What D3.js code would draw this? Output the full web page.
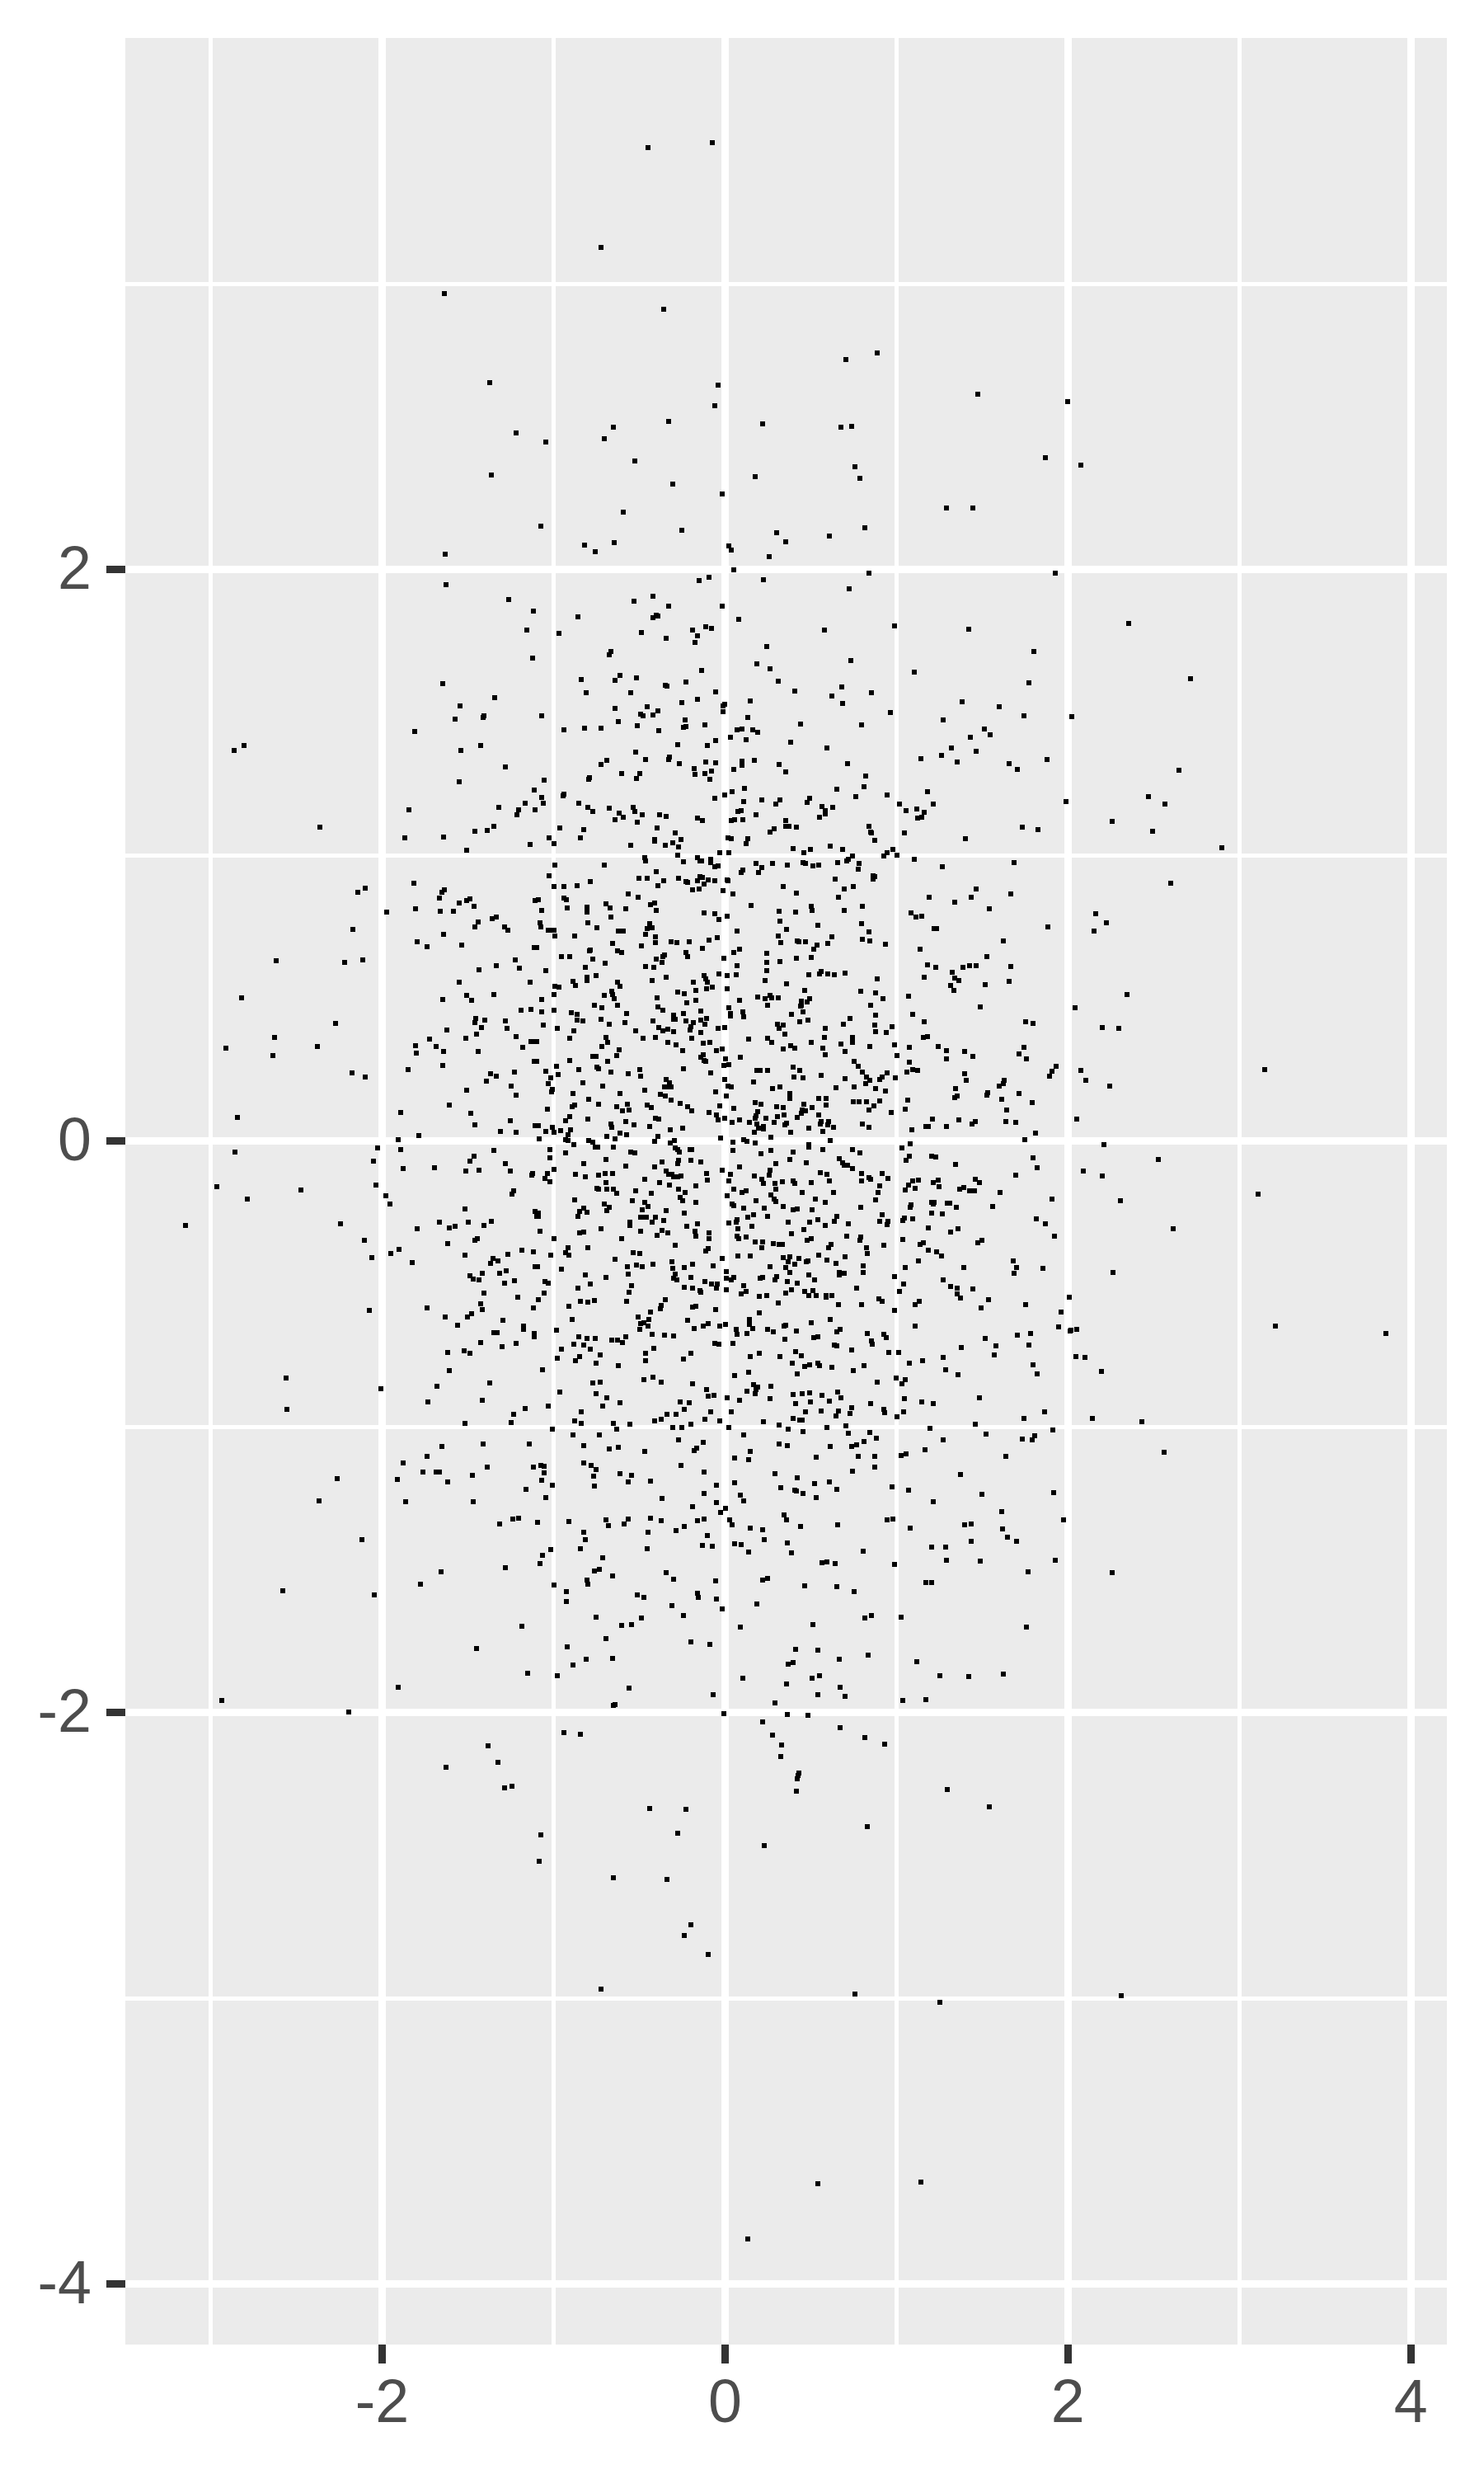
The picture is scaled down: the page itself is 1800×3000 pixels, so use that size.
<!DOCTYPE html>
<html><head><meta charset="utf-8">
<script src="https://cdn.jsdelivr.net/npm/d3@7"></script>
<style>html,body{margin:0;padding:0;background:#fff}svg{display:block}</style>
</head><body>
<div id="chart"></div>
<script>
const xMajorTicks=[-2,0,2,4];
const yMajorTicks=[-4,-2,0,2];
const xMinorTicks=[-3,-1,1,3];
const yMinorTicks=[-3,-1,1,3];
const xDomain=[-3.497,4.21];
const yDomain=[-4.211,3.861];

const pointsTop=[[-.45,3.478],[-.076,3.495],[-.723,3.128],[-1.637,2.967],[-.358,2.912],[.887,2.759],[.703,2.736],[-1.37,2.655],[-.042,2.646],[-.058,2.574],[-.331,2.519],[.221,2.511],[.675,2.499],[.737,2.502],[-.653,2.499],[-1.22,2.479],[-1.045,2.447],[-.705,2.459],[-.527,2.381],[.758,2.361],[-1.364,2.332],[.178,2.326],[.785,2.32],[-.306,2.3],[-.018,2.266],[1.474,2.615],[2,2.587],[1.87,2.392],[2.073,2.365]];

const pointsBottomFar=[[-.274,-2.423],[.228,-2.466],[.83,-2.4],[-1.073,-2.427],[-1.082,-2.521],[-.651,-2.577],[-.338,-2.583],[-.2,-2.742],[-.237,-2.781],[-.1,-2.847],[-.724,-2.968],[.756,-2.985],[1.252,-3.013],[2.31,-2.99],[.544,-3.648],[1.142,-3.643],[.131,-3.841]];

const pointsLowerLeft=[[-1.159,-1.218],[-2.365,-1.258],[-1.861,-1.261],[-1.466,-1.261],[-1.312,-1.339],[-1.236,-1.322],[-1.202,-1.319],[-2.115,-1.394],[-1.279,-1.492],[-1.654,-1.507],[-1.774,-1.549],[-2.577,-1.573],[-2.043,-1.587],[-1.183,-1.697],[-1.447,-1.775],[-1.149,-1.862],[-1.904,-1.91],[-2.933,-1.957],[-2.192,-1.997],[-1.38,-2.115],[-1.322,-2.173],[-1.625,-2.19],[-1.284,-2.263],[-1.24,-2.257]];

const pointsLowerCentre=[[-1.005,-1.205],[-.76,-1.207],[-.048,-1.205],[.327,-1.212],[.407,-1.22],[.418,-1.224],[.457,-1.232],[.524,-1.198],[.534,-1.247],[.654,-1.218],[.976,-1.209],[1.072,-1.221],[1.216,-1.261],[-1.043,-1.247],[-.365,-1.25],[-.12,-1.232],[.091,-1.238],[.111,-1.258],[-.188,-1.279],[-.048,-1.264],[.005,-1.284],[-.024,-1.299],[-1.093,-1.333],[-.909,-1.33],[-.692,-1.325],[-.678,-1.345],[-.563,-1.322],[-.587,-1.339],[-.433,-1.319],[-.37,-1.328],[-.159,-1.328],[-.12,-1.322],[.029,-1.325],[.043,-1.342],[.346,-1.307],[.361,-1.325],[.149,-1.354],[.221,-1.359],[.442,-1.348],[.659,-1.342],[.947,-1.325],[.981,-1.322],[1.082,-1.354],[-.822,-1.368],[-.447,-1.368],[-.284,-1.362],[-.236,-1.348],[-.813,-1.394],[-.101,-1.38],[.231,-1.394],[-.13,-1.414],[-.072,-1.417],[.058,-1.408],[.096,-1.411],[.365,-1.405],[-.841,-1.426],[-.452,-1.426],[-1.014,-1.429],[-1.063,-1.449],[-.712,-1.458],[.139,-1.437],[.389,-1.44],[.808,-1.434],[1.207,-1.42],[1.288,-1.42],[-1.077,-1.478],[.567,-1.475],[.596,-1.472],[.644,-1.478],[.99,-1.481],[1.292,-1.466],[-.76,-1.504],[-.731,-1.498],[-.654,-1.521],[-.341,-1.509],[-.298,-1.533],[-.803,-1.535],[-.798,-1.55],[-.995,-1.553],[-.053,-1.538],[.221,-1.535],[.25,-1.53],[.466,-1.556],[.654,-1.558],[.755,-1.576],[1.173,-1.544],[1.207,-1.544],[-.923,-1.576],[-.923,-1.611],[-.51,-1.587],[-.471,-1.596],[-.159,-1.582],[-.154,-1.596],[-.048,-1.602],[-.308,-1.625],[.188,-1.619],[-.014,-1.636],[-.75,-1.665],[-.486,-1.668],[-.24,-1.66],[.817,-1.668],[.856,-1.66],[1.029,-1.665],[-.601,-1.694],[-.543,-1.691],[.091,-1.7],[.514,-1.691],[-.692,-1.74],[-.197,-1.752],[-.087,-1.76],[-.918,-1.769],[.413,-1.778],[.543,-1.781],[-.808,-1.812],[-.654,-1.809],[.668,-1.812],[.837,-1.798],[1.12,-1.821],[-.885,-1.833],[.37,-1.83],[.399,-1.824],[-.976,-1.87],[.106,-1.879],[.51,-1.879],[.553,-1.87],[1.255,-1.87],[.361,-1.899],[-.558,-1.913],[.673,-1.911],[-.067,-1.937],[.543,-1.937],[.702,-1.942],[1.038,-1.957],[1.173,-1.954],[.293,-1.965],[-.639,-1.971],[-.649,-1.974],[-.005,-2.003],[.365,-2.006],[.486,-2.009],[.221,-2.032],[.673,-2.052],[-.938,-2.069],[-.841,-2.075],[.279,-2.078],[.817,-2.087],[.332,-2.113],[.933,-2.11],[.327,-2.153],[.433,-2.211],[.428,-2.219],[.423,-2.231],[.418,-2.274],[1.298,-2.268],[-.438,-2.335],[-.226,-2.338]];

const pointsLeftUpper=[[-2.361,1.1],[-1.865,1.062],[-1.639,1.065],[-1.457,1.085],[-1.385,1.088],[-1.346,1.103],[-1.135,1.039],[-1.505,1.019],[-1.813,.903],[-2.139,.872],[-2.096,.886],[-1.635,.88],[-1.649,.872],[-1.663,.851],[-1.548,.834],[-1.505,.843],[-1.486,.848],[-1.462,.823],[-1.106,.843],[-1.971,.802],[-1.803,.814],[-1.659,.805],[-1.582,.805],[-1.437,.768],[-1.457,.75],[-1.356,.779],[-1.332,.785],[-1.284,.75],[-1.264,.739],[-2.168,.742],[-1.639,.724],[-1.793,.698],[-1.736,.681],[-1.534,.687],[-1.111,.678],[-2.615,.632],[-2.216,.626],[-2.111,.635],[-1.221,.635],[-1.433,.6],[-1.332,.615],[-1.197,.606],[-1.548,.557],[-1.135,.557],[-2.817,.502],[-1.644,.496],[-1.505,.511],[-1.476,.494],[-1.346,.514],[-1.188,.459],[-1.13,.462],[-2.269,.413],[-1.452,.43],[-1.457,.416],[-1.399,.424],[-1.279,.421],[-1.418,.398],[-1.269,.395],[-1.62,.39],[-1.447,.375],[-1.216,.367],[-2.625,.364],[-1.721,.358],[-1.51,.361],[-1.13,.349],[-1.112,.349],[-2.909,.326],[-2.375,.332],[-1.803,.335],[-1.683,.332],[-1.639,.315],[-1.798,.309],[-1.437,.315],[-1.178,.329],[-2.635,.3],[-1.644,.266],[-1.846,.251],[-1.111,.28],[-2.173,.24],[-2.096,.225],[-1.365,.237],[-1.332,.228],[-1.226,.242],[-1.389,.211],[-1.245,.193],[-1.505,.179],[-1.216,.162],[-1.606,.127],[-2.841,.084],[-1.889,.101],[-1.481,.098],[-1.25,.072],[-1.457,.058],[-1.106,.055],[-1.308,.035],[-1.216,.032],[-1.784,.02],[-1.904,.006],[-2.024,-.023],[-2.856,-.038],[-1.889,-.029],[-1.346,-.032],[-1.462,-.051]];

const pointsLeftLower=[[-2.048,-.069],[-1.875,-.095],[-1.692,-.092],[-1.486,-.069],[-1.51,-.104],[-1.433,-.101],[-1.279,-.078],[-1.25,-.104],[-1.125,-.118],[-1.12,-.112],[-2.962,-.159],[-2.471,-.17],[-2.784,-.202],[-2.034,-.153],[-1.976,-.19],[-1.952,-.219],[-1.231,-.173],[-1.24,-.185],[-1.514,-.237],[-1.106,-.245],[-1.1,-.263],[-3.144,-.294],[-2.24,-.289],[-1.663,-.283],[-1.606,-.303],[-1.572,-.297],[-1.793,-.306],[-1.495,-.283],[-1.404,-.294],[-1.361,-.28],[-2.101,-.346],[-1.615,-.358],[-1.457,-.346],[-1.442,-.341],[-2.058,-.407],[-1.947,-.393],[-1.899,-.378],[-1.822,-.424],[-1.514,-.398],[-1.351,-.41],[-1.322,-.418],[-1.365,-.427],[-1.264,-.395],[-1.183,-.381],[-1.115,-.387],[-1.106,-.439],[-1.413,-.462],[-1.312,-.462],[-1.274,-.453],[-1.486,-.47],[-1.466,-.482],[-1.433,-.485],[-1.284,-.496],[-1.226,-.488],[-1.404,-.531],[-1.207,-.545],[-1.423,-.568],[-1.736,-.583],[-1.413,-.589],[-1.115,-.583],[-2.072,-.592],[-1.476,-.603],[-1.63,-.615],[-1.5,-.615],[-1.293,-.626],[-1.558,-.644],[-1.173,-.646],[-1.173,-.658],[-1.346,-.67],[-1.327,-.67],[-1.111,-.672],[-1.111,-.684],[-1.423,-.704],[-1.216,-.707],[-1.298,-.719],[-1.615,-.739],[-1.519,-.733],[-1.486,-.742],[-1.606,-.802],[-2.558,-.828],[-1.37,-.846],[-2.005,-.866],[-1.678,-.857],[-1.731,-.912],[-1.413,-.906],[-2.553,-.938],[-1.163,-.935],[-1.231,-.955],[-1.514,-.987],[-1.245,-.984],[-1.649,-1.068],[-1.409,-1.059],[-1.139,-1.059],[-1.736,-1.102],[-1.875,-1.125],[-1.385,-1.14],[-1.115,-1.14],[-1.76,-1.157],[-1.683,-1.157],[-1.663,-1.157],[-1.471,-1.169],[-2.26,-1.18],[-1.909,-1.183],[-1.615,-1.193]];

const pointsUpperLeft=[[-1.63,2.055],[-1.625,1.948],[-1.26,1.896],[-1.115,1.856],[-1.154,1.789],[-1.12,1.691],[-1.644,1.602],[-1.341,1.553],[-1.543,1.524],[-1.572,1.478],[-1.404,1.489],[-1.409,1.483],[-1.808,1.434],[-2.803,1.385],[-2.861,1.368],[-1.423,1.385],[-1.538,1.368],[-1.279,1.31],[-1.548,1.258],[-1.111,1.229],[-1.163,1.183],[-1.841,1.16],[-1.317,1.169],[-1.202,1.16],[-1.106,1.16],[-1.212,1.143]];

const pointsUpperCentre=[[-.591,2.202],[-1.072,2.153],[-.25,2.139],[-.817,2.087],[-.755,2.064],[-.644,2.095],[.024,2.084],[.038,2.069],[.303,2.13],[.356,2.098],[.611,2.118],[.817,2.147],[1.292,2.216],[.26,2.046],[.053,2],[.841,1.988],[-.149,1.962],[-.091,1.974],[.226,1.965],[.726,1.934],[-.418,1.908],[-.529,1.89],[-.327,1.873],[-.014,1.873],[-.856,1.835],[-.418,1.833],[-.399,1.841],[-.389,1.838],[.082,1.827],[-.966,1.778],[-.486,1.781],[-.341,1.76],[-.188,1.789],[-.111,1.801],[-.077,1.795],[-.159,1.769],[-.173,1.746],[.582,1.789],[.99,1.804],[.245,1.732],[-.663,1.714],[-.673,1.703],[.736,1.683],[.188,1.671],[.264,1.654],[-.135,1.648],[1.106,1.642],[-.837,1.616],[-.639,1.613],[-.611,1.631],[-.514,1.622],[-.346,1.596],[-.337,1.593],[-.226,1.607],[.313,1.61],[-.808,1.57],[-.548,1.57],[-.053,1.573],[.409,1.576],[.683,1.59],[.856,1.57],[.625,1.558],[-.25,1.535],[-.159,1.547],[.149,1.541],[.688,1.532],[-.639,1.515],[-.452,1.521],[-.01,1.524],[0,1.53],[-.389,1.506],[-.01,1.504],[-.49,1.495],[-.476,1.489],[-.418,1.492],[.966,1.501],[-1.067,1.489],[.135,1.483],[-.231,1.475],[1.274,1.475],[-.62,1.469],[-.51,1.455],[-.24,1.449],[-.226,1.452],[-.115,1.457],[.442,1.46],[.798,1.457],[-.938,1.44],[-.817,1.446],[-.721,1.446],[-.385,1.437],[.072,1.44],[.101,1.443],[.163,1.44],[.192,1.431],[.034,1.414],[.125,1.406],[-.053,1.403],[-.274,1.388],[-.101,1.385],[.385,1.397],[.596,1.377],[-.519,1.362],[-.688,1.333],[-.462,1.336],[-.322,1.345],[-.327,1.336],[1.264,1.351],[1.144,1.339],[-.721,1.319],[-.264,1.322],[-.111,1.328],[-.053,1.325],[.101,1.329],[.101,1.316],[.173,1.333],[.317,1.319],[.716,1.322],[-.178,1.304],[-.077,1.296],[.053,1.302],[.356,1.293],[-.601,1.287],[-.495,1.287],[-.173,1.284],[-.115,1.287],[.822,1.278],[-1.053,1.264],[-.788,1.273],[-.793,1.267],[-.514,1.27],[-.087,1.267],[.115,1.235],[.654,1.232],[.813,1.241],[1.183,1.224],[-.938,1.215],[-.942,1.209],[.043,1.224],[0,1.212],[-1.067,1.203],[-.058,1.201],[.764,1.206],[.947,1.212],[.216,1.195],[.322,1.195],[.495,1.201],[.111,1.189],[-1.058,1.183],[-.851,1.183],[.481,1.186],[.298,1.18],[1.019,1.18],[1.216,1.18],[-.798,1.169],[-.673,1.166],[-.534,1.169],[.567,1.172],[.63,1.169],[-.769,1.154],[-.524,1.154],[.096,1.157],[.077,1.154],[.587,1.157],[1.058,1.157],[1.12,1.163],[-.615,1.149],[-.481,1.143],[-.38,1.143],[-.341,1.137],[.183,1.143],[.587,1.146],[1.163,1.152],[-.591,1.134],[-.639,1.126],[-.159,1.131],[-.13,1.123],[.038,1.123],[.058,1.126],[.106,1.126],[.356,1.123],[.553,1.134],[1.125,1.131],[1.149,1.134],[-.51,1.116]];

const pointsCentreUpper=[[-.962,1.097],[-.822,1.091],[-.394,1.097],[-.288,1.079],[-1.024,1.062],[-.841,1.062],[-.409,1.056],[-.409,1.051],[-.255,1.056],[-.995,1.042],[-.548,1.036],[-.346,1.036],[-.303,1.045],[-.269,1.03],[.019,1.062],[.038,1.059],[.135,1.059],[.125,1.042],[.288,1.094],[.264,1.082],[.356,1.101],[.375,1.101],[.418,1.1],[.841,1.103],[.851,1.082],[.856,1.079],[.875,1.053],[1.048,1.079],[.397,1.025],[.462,1.01],[.5,1.022],[.615,1.033],[.688,1.022],[-.029,1.01],[.024,1.01],[-.274,1.001],[-.466,.993],[-.462,.981],[-.24,.978],[-.159,.993],[-.144,.981],[-.135,.981],[-.082,.987],[-.082,.975],[.745,.999],[.721,.987],[.712,.981],[.659,.975],[.928,.999],[.947,1.01],[.981,1.022],[1.005,1.001],[1.106,.987],[.784,.973],[.779,.952],[1.269,.961],[-.99,.967],[-.706,.967],[-.058,.961],[-.038,.964],[.183,.973],[.279,.973],[.365,.967],[.457,.975],[.471,.973],[.514,.964],[.548,.967],[.216,.958],[.106,.95],[.096,.941],[.197,.941],[-.399,.944],[-1.024,.929],[-.5,.921],[-.452,.921],[-.269,.921],[-.144,.927],[-.13,.924],[-.096,.915],[.644,.918],[.865,.929],[.875,.926],[.865,.918],[-.784,.909],[-.356,.912],[-.226,.909],[-.216,.906],[-.159,.912],[-.058,.912],[.014,.915],[.019,.912],[-.995,.892],[-.938,.892],[-.861,.895],[-.389,.895],[-.12,.9],[.341,.892],[.75,.892],[.697,.883],[-.188,.88],[-.149,.883],[-.01,.877],[.048,.866],[.418,.869],[-.563,.866],[-.505,.854],[.663,.854],[1.192,.854],[-1.088,.844],[-.938,.851],[-.923,.846],[-.692,.831],[-.409,.834],[-.433,.828],[.154,.825],[.505,.823],[.803,.823],[-.918,.817],[-.803,.82],[-.668,.817],[-.577,.814],[-1.069,.808],[-.803,.808],[-.803,.802],[-.399,.808],[.317,.805],[.413,.802],[.51,.808],[.697,.808],[-.12,.799],[-.058,.797],[-.663,.785],[.014,.788],[-.034,.776],[.322,.771],[1.087,.799],[1.115,.785],[1.149,.788],[-1.077,.765],[-1.072,.75],[-.798,.765],[-.438,.762],[-.745,.746],[-.452,.745],[-.423,.747],[.543,.756],[.798,.762],[.361,.742],[-1.029,.739],[-1.01,.739],[-.995,.739],[-.62,.736],[-.606,.736],[-.591,.736],[.072,.736],[.841,.733],[1.221,.745],[1.236,.745],[-.99,.719],[-.875,.719],[-.462,.724],[-.404,.716],[-.043,.713],[-.091,.704],[.313,.719],[.625,.716],[.803,.707],[.846,.701],[-.654,.693],[-.404,.696],[-.313,.698],[-.279,.696],[-.207,.698],[.327,.696],[.423,.701],[.433,.698],[.471,.698],[.601,.693],[.538,.687],[.938,.69],[-1.098,.678],[-.486,.684],[-.13,.675],[.087,.672],[.519,.672],[1.139,.672],[-.788,.667],[-.784,.67],[-.625,.667],[-.601,.661],[-.226,.661],[.053,.661],[.245,.658],[-.952,.646],[-.904,.646],[-.351,.652],[-.361,.646],[-.216,.646],[-.769,.638],[-.399,.638],[-.005,.641],[.418,.641],[.505,.644],[-.697,.623],[-.365,.626],[.245,.627],[.322,.629],[1.183,.618],[.072,.615],[1.231,.609],[-.813,.609],[-.462,.612],[-.413,.609],[-1.043,.598],[.245,.597],[-.75,.58],[-.341,.574],[-.12,.58],[-.034,.586],[.014,.58],[.067,.583],[.49,.583],[.553,.586],[.563,.595],[.601,.586],[.639,.583],[.702,.589],[1.163,.574]];

const pointsCentreMiddle=[[-.803,.573],[-.803,.563],[-.885,.56],[-.423,.563],[-.111,.569],[.889,.569],[.236,.563],[-.625,.557],[-.183,.557],[-.101,.557],[.361,.551],[-.87,.545],[-.99,.543],[-.966,.54],[-.611,.543],[-.106,.534],[-.072,.54],[.014,.534],[-.168,.528],[.466,.528],[.793,.525],[.88,.519],[-.995,.514],[-.702,.511],[-.659,.525],[-.654,.514],[-.274,.522],[-.236,.517],[1.072,.508],[-1.067,.496],[-.644,.499],[-.394,.502],[.192,.505],[.236,.499],[.264,.511],[.274,.502],[.313,.501],[.495,.499],[.447,.491],[.481,.488],[.923,.499],[-.168,.494],[.087,.494],[-.221,.485],[-.76,.476],[-.625,.476],[.25,.476],[.447,.476],[.442,.473],[.851,.476],[-.716,.468],[-.389,.47],[.024,.468],[-.361,.459],[-1.067,.453],[-.995,.459],[-.139,.456],[.106,.453],[.457,.453],[-.894,.45],[-.572,.447],[-.24,.447],[-.861,.444],[-.298,.442],[.034,.447],[.034,.439],[.111,.436],[.389,.444],[.88,.442],[1.096,.444],[-.298,.427],[-.288,.427],[-.106,.43],[.731,.43],[-.861,.424],[-.827,.421],[-.721,.427],[-.418,.421],[-.226,.421],[-.139,.424],[.437,.418],[.486,.424],[1.163,.418],[-1.058,.407],[-.673,.41],[-.582,.416],[-.183,.416],[-.115,.41],[.308,.41],[.341,.407],[.692,.41],[.875,.407],[-.976,.395],[-.385,.398],[-.197,.401],[-.038,.395],[0,.398],[.317,.395],[.587,.395],[.976,.401],[-.88,.387],[-.519,.387],[-.361,.387],[-.332,.392],[-.298,.384],[-.202,.39],[-.139,.381],[.88,.384],[.942,.381],[.351,.375],[-.904,.361],[-.692,.364],[-.476,.361],[-.404,.364],[-.192,.361],[.139,.358],[.25,.361],[.582,.364],[.745,.364],[.745,.346],[1.159,.364],[1.183,.367],[-1.098,.349],[-.683,.346],[-.332,.346],[-.125,.343],[-.087,.346],[.274,.346],[.505,.346],[.678,.341],[-.716,.332],[-.284,.338],[.385,.335],[.409,.326],[.846,.332],[.99,.338],[1.077,.329],[.572,.326],[1.245,.332],[-.615,.32],[-.245,.317],[-.048,.317],[-.014,.323],[.341,.323],[.702,.315],[1.292,.317],[-.63,.3],[-.769,.297],[-.75,.297],[-.125,.303],[-.139,.294],[.091,.294],[.587,.303],[1.005,.3],[.005,.289],[-.12,.283],[-.111,.28],[-1.098,.28],[-.904,.283],[-.683,.28],[.755,.28],[1.077,.277],[1.292,.289],[-.981,.263],[-.745,.26],[-.005,.266],[.024,.268],[.399,.26],[.779,.263],[-.851,.251],[-.736,.254],[-.495,.251],[-.24,.254],[.188,.248],[.207,.248],[.25,.248],[.437,.248],[1.096,.251],[1.125,.248],[-1.043,.245],[-.663,.242],[1.062,.242],[.803,.242],[-.971,.234],[-.562,.237],[-.082,.24],[.946,.24],[-.49,.228],[.404,.225],[.457,.222],[.563,.231],[.827,.225],[.918,.225],[-1.014,.222],[-.341,.216],[0,.216],[.702,.219],[.843,.214],[.904,.216],[.995,.222],[.168,.208],[.822,.202],[-.827,.205],[-1.029,.202],[-.322,.205],[-.712,.193],[-.351,.19],[-.332,.19],[-.313,.19],[.019,.193],[.038,.19],[.322,.19],[.755,.19],[.279,.185],[.649,.186],[.88,.185],[-1.005,.182],[-.466,.179],[-1.01,.173],[-.053,.173],[.938,.176],[-.885,.167],[-.611,.167],[.38,.167],[-.375,.165],[-.346,.159],[.01,.159],[.38,.15],[-.793,.147],[-.313,.144],[.548,.15],[.591,.15],[1.067,.144],[.75,.139],[.784,.139],[.827,.139],[.904,.141],[.178,.136],[-.26,.133],[-.736,.13],[-.567,.13],[.212,.13],[.462,.13],[.591,.127],[-.875,.127],[-.452,.127],[-.889,.121],[-.63,.121],[-.428,.118],[-.216,.121],[-.029,.124],[.303,.121],[.341,.118],[.51,.118],[.87,.124],[.053,.115],[-1.034,.111],[-.596,.107],[-.558,.11],[-.192,.107],[.452,.11],[.471,.106],[.841,.11],[1.053,.113],[.191,.104],[-.091,.101],[.444,.098],[.971,.101],[-.904,.087],[-.048,.092],[.346,.092],[.548,.092],[.181,.09],[-.404,.081],[-.385,.078],[-.798,.078],[-.038,.075],[0,.081],[.178,.081],[.24,.081],[.308,.087],[.423,.084],[-.928,.072],[-.577,.069],[.087,.075],[.144,.066],[.288,.066],[.563,.069],[.606,.069],[1.212,.078],[.043,.066],[.188,.061],[.361,.064],[.558,.061],[.601,.058],[.803,.061],[.351,.058],[-.663,.061],[-.529,.058],[-1.09,.055],[-1.005,.049],[-.659,.049],[-.438,.052],[.226,.052],[.841,.049],[.635,.049],[-.245,.046],[.197,.046],[.49,.046],[.226,.043],[1.173,.052],[1.188,.052],[1.292,.052],[1.088,.04],[-1.043,.035],[-.995,.032],[-.957,.037],[-.899,.04],[-.317,.04],[.173,.032],[.385,.032],[.572,.035],[-.611,.029],[-.913,.023],[-.572,.023],[-.688,.017],[-.389,.017],[.269,.014],[-1.082,.009],[-.928,.006],[-.639,.009],[-.024,.012],[.111,.006],[.615,.003],[-.913,.003],[-.793,.003],[-.293,.003],[.13,0],[-.769,-.003],[-.409,0],[-.317,-.006],[.048,-.003],[.178,-.006],[1.082,-.009],[-.88,-.012],[.49,-.012],[-.755,-.02],[-.74,-.02],[-.649,-.02],[-.288,-.023],[.49,-.02],[1.034,-.023],[-1.019,-.029],[-.274,-.029],[-.202,-.029],[-.192,-.029],[.048,-.032],[.269,-.032],[.572,-.029],[.745,-.029],[-.266,-.038],[-.928,-.04],[-.548,-.038],[-.524,-.041],[.399,-.038],[.788,-.04],[.212,-.043]];

const pointsCentreLower=[[-1.019,-.058],[-.822,-.078],[-.692,-.063],[-.577,-.087],[-.409,-.089],[-.365,-.072],[-.269,-.066],[-.274,-.078],[-.197,-.066],[-.139,-.072],[.087,-.089],[.298,-.078],[.38,-.063],[.476,-.075],[.668,-.061],[.688,-.075],[.697,-.083],[.713,-.083],[.745,-.095],[1.058,-.066],[1.077,-.052],[1.207,-.052],[1.231,-.055],[-.995,-.098],[-1.037,-.113],[-1.048,-.13],[-1.019,-.141],[-.87,-.115],[-.813,-.124],[-.736,-.118],[-.697,-.113],[-.654,-.113],[-.466,-.133],[-.341,-.104],[-.327,-.115],[-.308,-.115],[-.298,-.124],[-.274,-.124],[-.258,-.121],[-.106,-.113],[-.101,-.136],[-.014,-.101],[.034,-.115],[.024,-.139],[.173,-.121],[.216,-.133],[.264,-.101],[.26,-.118],[.226,-.147],[.293,-.147],[.337,-.141],[.399,-.139],[.409,-.147],[.505,-.144],[.558,-.11],[.596,-.115],[.611,-.139],[.795,-.113],[.798,-.139],[.841,-.127],[.851,-.133],[.918,-.113],[.952,-.13],[.904,-.156],[1.096,-.139],[1.13,-.136],[1.072,-.153],[1.111,-.164],[1.053,-.17],[1.216,-.144],[1.245,-.136],[1.25,-.159],[-.692,-.144],[-.38,-.144],[-.322,-.153],[-.168,-.156],[-.745,-.164],[-.736,-.167],[-.688,-.167],[-.649,-.167],[-.63,-.182],[-.519,-.173],[-.428,-.182],[-.269,-.167],[-.231,-.179],[.053,-.167],[.101,-.179],[.125,-.173],[.298,-.167],[.452,-.179],[.635,-.179],[.894,-.179],[.014,-.19],[.269,-.187],[-.875,-.205],[-.538,-.208],[-.26,-.196],[-.245,-.208],[-.168,-.213],[-.706,-.219],[-.466,-.213],[.183,-.208],[.288,-.202],[.298,-.21],[.529,-.202],[.587,-.213],[.88,-.205],[1.207,-.214],[1.221,-.214],[1.213,-.22],[.043,-.219],[.053,-.225],[-.673,-.231],[-.447,-.229],[-.822,-.234],[.341,-.228],[.793,-.231],[1.087,-.222],[1.082,-.231],[1.298,-.216],[.111,-.234],[.231,-.234],[-.688,-.242],[-.481,-.239],[-.341,-.242],[.399,-.239],[.423,-.237],[.508,-.239],[-.846,-.245],[-.803,-.248],[-.236,-.251],[1.207,-.251],[1.269,-.254],[-1.09,-.251],[-1.09,-.263],[.918,-.257],[-.856,-.263],[.168,-.257],[.25,-.263],[.135,-.265],[.654,-.263],[-.49,-.265],[-.476,-.265],[-.46,-.265],[-.404,-.265],[.072,-.274],[1.046,-.268],[1.096,-.271],[1.038,-.277],[-.356,-.277],[-.423,-.283],[-.553,-.283],[.067,-.283],[.024,-.286],[.37,-.283],[.494,-.283],[.543,-.274],[.639,-.28],[.721,-.288],[.904,-.28],[.952,-.279],[.947,-.291],[-.553,-.294],[-.159,-.289],[-.221,-.297],[.159,-.297],[.587,-.294],[-.721,-.306],[.077,-.306],[.462,-.309],[1.187,-.303],[-1.077,-.314],[-.49,-.314],[-.365,-.312],[-.173,-.314],[-.846,-.32],[-.822,-.317],[-.332,-.32],[-.091,-.32],[.389,-.323],[-.394,-.329],[-.168,-.332],[.072,-.332],[.125,-.335],[.712,-.332],[.793,-.335],[-.995,-.34],[-.601,-.34],[-.091,-.34],[.082,-.34],[.505,-.341],[.481,-.346],[.788,-.346],[1.038,-.344],[.178,-.352],[.221,-.352],[.284,-.358],[.317,-.361],[.333,-.361],[-.288,-.364],[.62,-.362],[.928,-.364],[1.139,-.361],[1.159,-.355],[-.913,-.373],[-.798,-.373],[.216,-.372],[-.096,-.375],[.606,-.372],[.827,-.372],[-.111,-.384],[-.928,-.389],[-.534,-.389],[-.495,-.392],[.832,-.392],[1.187,-.381],[1.235,-.387],[-1.014,-.398],[-.909,-.398],[.077,-.401],[.149,-.401],[.341,-.407],[.38,-.404],[.548,-.398],[.702,-.404],[1.264,-.401],[-.639,-.413],[-.014,-.41],[.433,-.41],[.37,-.421],[-.308,-.421],[.476,-.421],[.486,-.418],[.596,-.416],[1.13,-.418],[-.188,-.43],[-.418,-.43],[-.514,-.433],[.409,-.43],[.649,-.427],[-.567,-.439],[-.481,-.439],[-.067,-.436],[.264,-.439],[.356,-.442],[.808,-.436],[-1.093,-.439],[-.303,-.444],[-.236,-.442],[1.053,-.442],[-.952,-.447],[.01,-.456],[.38,-.459],[.668,-.459],[.697,-.462],[.808,-.459],[-.813,-.468],[-.562,-.465],[-.288,-.465],[.49,-.468],[.668,-.468],[-.692,-.476],[-.197,-.476],[-.298,-.479],[.01,-.479],[.053,-.476],[.221,-.476],[.303,-.473],[.99,-.473],[-.279,-.485],[.038,-.485],[.205,-.479],[.293,-.485],[.524,-.485],[1.274,-.485],[-1.048,-.491],[-1.029,-.496],[-.115,-.491],[.365,-.491],[.423,-.496],[-.784,-.499],[-.077,-.499],[-.043,-.499],[1.043,-.499],[-.543,-.505],[.111,-.505],[-.856,-.514],[-.236,-.511],[-.188,-.514],[-.048,-.514],[.769,-.514],[-.144,-.522],[.01,-.52],[.389,-.52],[.514,-.522],[.466,-.525],[1.019,-.525],[-.558,-.528],[-.139,-.528],[.125,-.525],[-1.053,-.531],[.096,-.534],[.356,-.531],[.202,-.543],[.245,-.54],[.49,-.54],[.534,-.54],[.591,-.54],[.591,-.546],[.625,-.54],[-.346,-.554],[-1.087,-.554],[-.841,-.56],[-.798,-.563],[-.76,-.557],[-.572,-.56],[.899,-.551],[.918,-.56],[1.135,-.56],[.313,-.566],[-.37,-.574],[.663,-.571],[.798,-.571],[1.111,-.571],[-.909,-.577],[-.188,-.58],[-.168,-.577],[-.375,-.586],[-.053,-.589],[.99,-.592],[-.433,-.597],[.202,-.6],[-.505,-.615],[-.889,-.624],[-.442,-.624],[-.216,-.626],[.144,-.624],[.615,-.624],[-.49,-.638],[-.471,-.635],[-.447,-.647],[-.096,-.638],[.005,-.641],[.144,-.641],[.505,-.635],[-.125,-.647],[-.029,-.647],[.356,-.645],[.346,-.648],[1.111,-.647],[-.981,-.661],[-.495,-.658],[-.178,-.655],[.067,-.658],[.163,-.655],[.25,-.658],[.673,-.658],[.284,-.667],[.418,-.664],[.654,-.667],[.072,-.675],[.13,-.672],[-.423,-.675],[-.351,-.678],[-.298,-.681],[.832,-.672],[.928,-.677],[-.851,-.684],[-.577,-.684],[.542,-.683],[.519,-.687],[-.803,-.69],[-.755,-.69],[-.659,-.695],[-.625,-.695],[.351,-.693],[.942,-.687],[.856,-.698],[-.88,-.71],[-.596,-.706],[-.822,-.713],[-.058,-.707],[-.034,-.71],[.048,-.707],[.639,-.713],[.654,-.716],[.861,-.71],[-.413,-.724],[-.952,-.727],[-.784,-.727],[.74,-.73],[-.462,-.742],[-.197,-.742],[.202,-.742],[.413,-.736],[.957,-.739],[1.014,-.739],[-.726,-.747],[-.846,-.753],[.149,-.753],[.322,-.753],[.447,-.75],[-.976,-.759],[-.24,-.762],[-.87,-.768],[-.462,-.768],[.394,-.776],[.543,-.776],[1.077,-.776],[1.154,-.768],[1.274,-.756],[-.75,-.776],[.495,-.782],[.466,-.788],[.553,-.785],[-.62,-.785],[.625,-.791],[.813,-.785],[-1.062,-.799],[.75,-.802],[1.288,-.799],[.139,-.808],[.423,-.814],[.058,-.82],[-.471,-.834],[-.418,-.825],[-.37,-.843],[1,-.828],[1.053,-.834],[-.769,-.846],[-.726,-.843],[-.188,-.848],[.889,-.843],[1.034,-.848],[.168,-.851],[.192,-.86],[.269,-.857],[-.106,-.869],[-.962,-.877],[.183,-.869],[.13,-.875],[.178,-.883],[-.75,-.883],[.452,-.883],[.495,-.88],[.659,-.877],[.399,-.886],[-.096,-.892],[-.063,-.889],[.567,-.889],[-.688,-.898],[.014,-.898],[.264,-.901],[.678,-.898],[1.048,-.901],[.087,-.906],[.611,-.909],[.5,-.912],[-.26,-.912],[-.207,-.915],[-.611,-.915],[1.149,-.912],[.413,-.918],[.851,-.918],[1.216,-.918],[-1.029,-.926],[-.712,-.926],[-.236,-.938],[.74,-.932],[.928,-.937],[-.837,-.947],[-.082,-.947],[.038,-.947],[.471,-.947],[.563,-.944],[.663,-.944],[.933,-.949],[1.043,-.947],[-.337,-.955],[-.284,-.955],[.731,-.952],[.649,-.961],[1.005,-.964],[-.37,-.972],[-.115,-.972],[.399,-.97],[.437,-.975],[.452,-.977],[-.875,-.978],[-.409,-.978],[-.029,-.978],[.226,-.981],[-.837,-.987],[-.649,-.987],[-.553,-.99],[-.197,-.99],[.317,-.993],[.707,-.996],[-.303,-1.001],[-.25,-1.001],[.024,-1.001],[.596,-1.001],[-1.005,-1.007],[-.63,-1.007],[.37,-1.007],[1.197,-1.004],[.457,-1.016],[.721,-1.021],[.846,-1.019],[-.885,-1.027],[-.731,-1.027],[.111,-1.027],[.885,-1.039],[-.269,-1.045],[1.274,-1.045],[-.125,-1.053],[.813,-1.051],[-.822,-1.065],[.317,-1.059],[.365,-1.065],[.615,-1.068],[.74,-1.068],[.769,-1.062],[-.673,-1.076],[-.62,-1.071],[-.163,-1.074],[-.178,-1.082],[-.466,-1.085],[.149,-1.085],[1.168,-1.079],[1.029,-1.099],[1.058,-1.094],[.058,-1.108],[.139,-1.114],[.534,-1.105],[.779,-1.102],[.875,-1.102],[-.822,-1.125],[-.779,-1.134],[-1.072,-1.134],[-1.053,-1.137],[-.255,-1.134],[-.75,-1.149],[.875,-1.14],[-1.053,-1.16],[-.12,-1.157],[.745,-1.154],[-.764,-1.172],[-.611,-1.163],[-.543,-1.169],[.293,-1.163],[.423,-1.177],[-1.067,-1.186],[-.433,-1.189],[-.563,-1.193],[.611,-1.192],[.058,-1.195]];

const pointsRightUpper=[[1.446,2.217],[1.926,1.989],[1.42,1.793],[2.353,1.812],[1.801,1.715],[2.714,1.619],[1.772,1.604],[1.381,1.538],[1.599,1.521],[1.742,1.49],[2.022,1.487],[1.512,1.442],[1.545,1.423],[1.429,1.415],[1.319,1.376],[1.464,1.366],[1.354,1.328],[1.656,1.322],[1.704,1.301],[1.878,1.336],[2.647,1.298],[2.469,1.207],[2.565,1.18],[1.989,1.189],[2.257,1.12],[1.733,1.099],[1.825,1.091],[2.493,1.085],[1.402,1.06],[2.896,1.027],[1.685,.976],[2.598,.904],[1.464,.883],[1.665,.864],[1.435,.854],[1.339,.837],[1.542,.814],[2.162,.796],[2.224,.765],[1.882,.75],[2.151,.736],[1.622,.702],[1.527,.646],[1.387,.609],[1.426,.615],[1.464,.615],[1.665,.612],[1.324,.591],[1.339,.572],[1.363,.563],[1.656,.56],[1.317,.544],[1.516,.549],[1.334,.528],[2.344,.513],[1.488,.471],[2.04,.468],[1.751,.419],[1.795,.413],[2.2,.399],[2.296,.396],[1.742,.329],[1.396,.315],[1.715,.306],[1.444,.297],[1.757,.287],[1.93,.263],[1.906,.245],[2.075,.248],[3.146,.251],[1.891,.228],[1.396,.237],[2.103,.212],[1.405,.212],[1.628,.213],[1.622,.203],[1.599,.194],[2.243,.194],[1.343,.185],[1.53,.17],[1.715,.167],[1.527,.161],[1.354,.159],[1.339,.153],[1.613,.147],[1.79,.135],[1.641,.11],[2.051,.078],[1.363,.075],[1.459,.07],[1.439,.061],[1.637,.07],[1.694,.067],[1.81,.029],[1.748,.005],[2.209,-.011]];

const pointsRightLower=[[1.343,-.08],[1.795,-.058],[1.819,-.092],[2.526,-.064],[2.088,-.104],[1.694,-.118],[2.2,-.121],[1.459,-.133],[1.483,-.145],[1.367,-.167],[1.391,-.161],[1.426,-.173],[1.453,-.173],[1.602,-.179],[3.107,-.185],[1.906,-.202],[2.305,-.208],[1.31,-.217],[1.348,-.23],[1.56,-.229],[1.814,-.271],[1.867,-.289],[1.359,-.305],[1.315,-.317],[2.612,-.305],[1.921,-.332],[1.497,-.347],[1.473,-.355],[1.68,-.419],[1.391,-.441],[1.7,-.441],[1.853,-.444],[1.685,-.461],[2.263,-.458],[1.315,-.507],[1.354,-.513],[1.444,-.516],[1.354,-.534],[1.372,-.548],[1.538,-.554],[2.007,-.545],[1.751,-.572],[1.492,-.584],[1.959,-.597],[1.945,-.65],[2.013,-.663],[2.018,-.66],[2.051,-.657],[3.209,-.647],[3.854,-.672],[1.516,-.69],[1.703,-.678],[1.781,-.672],[1.772,-.713],[1.578,-.716],[1.378,-.722],[1.569,-.747],[2.046,-.753],[2.099,-.756],[1.795,-.782],[1.819,-.813],[2.195,-.805],[1.359,-.816],[1.483,-.897],[1.864,-.946],[1.742,-.969],[2.141,-.969],[2.43,-.981],[1.459,-.99],[1.911,-1.011],[1.521,-1.025],[1.807,-1.03],[1.733,-1.042],[1.79,-1.044],[2.561,-1.089],[1.637,-1.102],[1.372,-1.165],[1.915,-1.23],[1.497,-1.235],[1.613,-1.296],[1.974,-1.324],[1.396,-1.342],[1.435,-1.339],[1.617,-1.357],[1.646,-1.386],[1.435,-1.399],[1.7,-1.399],[1.488,-1.469],[1.926,-1.466],[1.766,-1.507],[2.257,-1.51],[1.757,-1.7],[1.42,-1.873],[1.622,-1.865],[1.542,-2.328]];

const allPoints=[].concat(pointsTop,pointsBottomFar,pointsLowerLeft,pointsLowerCentre,pointsLeftUpper,pointsLeftLower,pointsUpperLeft,pointsUpperCentre,pointsCentreUpper,pointsCentreMiddle,pointsCentreLower,pointsRightUpper,pointsRightLower);

const W=1800,H=3000,L=152,R=1755,T=46,B=2843;
const x=d3.scaleLinear().domain(xDomain).range([L,R]);
const y=d3.scaleLinear().domain(yDomain).range([B,T]);
const svg=d3.select('#chart').append('svg').attr('width',W).attr('height',H).attr('viewBox',`0 0 ${W} ${H}`);
svg.append('rect').attr('width',W).attr('height',H).attr('fill','#fff');
svg.append('rect').attr('x',L).attr('y',T).attr('width',R-L).attr('height',B-T).attr('fill','#EBEBEB');

const grid=svg.append('g').attr('stroke','#fff').attr('shape-rendering','crispEdges');
grid.selectAll('.xn').data(xMinorTicks).join('line').attr('x1',x).attr('x2',x).attr('y1',T).attr('y2',B).attr('stroke-width',4.5);
grid.selectAll('.yn').data(yMinorTicks).join('line').attr('y1',y).attr('y2',y).attr('x1',L).attr('x2',R).attr('stroke-width',4.5);
grid.selectAll('.xm').data(xMajorTicks).join('line').attr('x1',x).attr('x2',x).attr('y1',T).attr('y2',B).attr('stroke-width',9);
grid.selectAll('.ym').data(yMajorTicks).join('line').attr('y1',y).attr('y2',y).attr('x1',L).attr('x2',R).attr('stroke-width',9);

const S=6;
svg.append('g').attr('fill','#000').attr('shape-rendering','crispEdges')
  .selectAll('rect').data(allPoints).join('rect')
  .attr('x',d=>Math.round(x(d[0])-S/2)).attr('y',d=>Math.round(y(d[1])-S/2)).attr('width',S).attr('height',S);

const fmt=d=>String(d);
const xAxis=svg.append('g').attr('transform',`translate(0,${B})`)
  .call(d3.axisBottom(x).tickValues(xMajorTicks).tickSize(23).tickPadding(18.7).tickFormat(fmt).offset(0));
const yAxis=svg.append('g').attr('transform',`translate(${L},0)`)
  .call(d3.axisLeft(y).tickValues(yMajorTicks).tickSize(23).tickPadding(18).tickFormat(fmt).offset(0));
[xAxis,yAxis].forEach(a=>{
  a.select('.domain').remove();
  a.selectAll('.tick line').attr('stroke','#333333').attr('stroke-width',9).attr('shape-rendering','crispEdges');
  a.selectAll('.tick text').attr('fill','#4D4D4D').style('font-family','"Liberation Sans",Arial,Helvetica,sans-serif').style('font-size','73.6px');
});
</script>
</body></html>
